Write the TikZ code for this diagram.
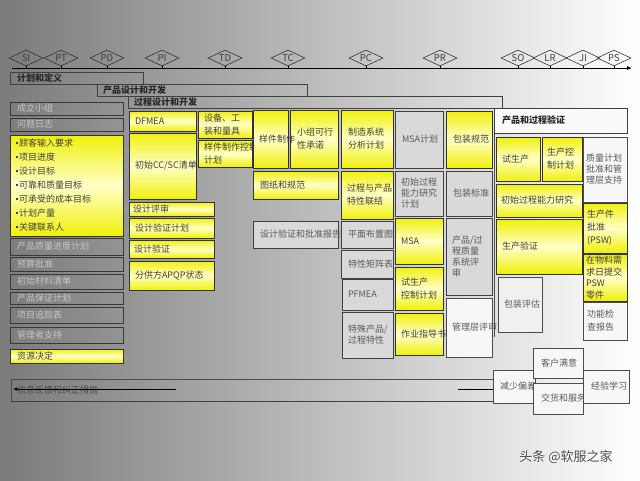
\documentclass[tikz,border=0pt]{standalone}
\usepackage{fontspec}
\setmainfont{Noto Sans CJK SC}
\usetikzlibrary{shapes.geometric,arrows.meta}
\definecolor{yel}{RGB}{240,240,10}
\definecolor{yelmid}{RGB}{255,255,200}
\newcommand\sqb{\rule[2.5pt]{2.2pt}{2.2pt}\hspace{1pt}}
% #1 pad, #2 style, #3 name, #4 x1, #5 y1, #6 x2, #7 y2, #8 text
\newcommand\bx[8][6]{%
  \pgfmathsetmacro\bxw{#6-#4}%
  \pgfmathsetmacro\bxh{#7-#5}%
  \pgfmathsetmacro\bxt{#6-#4-2*#1}%
  \node[#2, inner xsep=#1pt, minimum width=\bxw pt, minimum height=\bxh pt, text width=\bxt pt] (#3) at ({(#4+#6)/2},{(#5+#7)/2}) {#8};}
\tikzset{
  bxbase/.style={rectangle, inner ysep=0pt, align=left, font=\fontsize{9}{13}\selectfont},
  ybox/.style={bxbase, draw=black!80, line width=1pt, top color=yel, bottom color=yel, middle color=yelmid, text=black!75},
  lbox/.style={bxbase, draw=black!78, line width=1pt, text=black!22},
  gbox/.style={bxbase, draw=black!75, line width=1pt, fill=black!15, text=black!65},
  wbox/.style={bxbase, draw=black!70, line width=0.7pt, fill=black!3, text=black!65},
  hbar/.style={bxbase, draw=black!75, line width=0.8pt, text=black!85, font=\bfseries\fontsize{9}{11}\selectfont},
  tightlines/.style={font=\fontsize{9}{11}\selectfont},
  listlines/.style={font=\fontsize{9}{14}\selectfont},
  ms/.style={draw=black!80, line width=0.6pt, shape=diamond, aspect=2.3, minimum width=34pt, minimum height=16pt, inner sep=0pt, text=black!75, font=\fontsize{9.5}{10}\selectfont},
  fbbar/.style={bxbase, draw=black!70, line width=0.7pt, text=black!70},
}
\begin{document}
\begin{tikzpicture}[x=1pt,y=-1pt]
\useasboundingbox (0,0) rectangle (640,480);
\shade[left color=black!52, right color=white] (0,0) rectangle (640,480);

% timeline
\coordinate (tl0) at (12,68);
\coordinate (tl1) at (632,68);
\draw[line width=0.8pt, -{Latex[length=5pt,width=4pt]}] (tl0) -- (tl1);
\foreach \n/\x in {SI/26,PT/61,PD/107,PI/162,TD/225,TC/288,PC/366,PR/440,SO/518,LR/550,JI/583,PS/614}{
  \node[ms] (ms\n) at (\x,58) {\n};
  \draw[line width=1pt] (ms\n.south) -- (ms\n.south |- tl0);
}

% phase bars
\bx[7]{hbar}{ph1}{10}{72}{143}{84}{计划和定义}
\bx[6]{hbar}{ph2}{97}{84}{307}{96}{产品设计和开发}
\bx[6]{hbar}{ph3}{128}{96}{502}{108}{过程设计和开发}

% left column
\bx[7]{lbox}{l1}{10}{102}{123}{115}{成立小组}
\bx[7]{lbox}{l2}{10}{118}{123}{131}{问题日志}
\bx[6]{ybox,listlines}{l3}{10}{135}{123}{236}{\sqb 顾客输入要求\\\sqb 项目进度\\\sqb 设计目标\\\sqb 可靠和质量目标\\\sqb 可承受的成本目标\\\sqb 计划产量\\\sqb 关键联系人}
\bx[7]{lbox}{l4}{10}{238}{123}{255}{产品质量进度计划}
\bx[7]{lbox}{l5}{10}{257}{123}{271}{预算批准}
\bx[7]{lbox}{l6}{10}{274}{123}{289}{初始材料清单}
\bx[7]{lbox}{l7}{10}{292}{123}{304}{产品保证计划}
\bx[7]{lbox}{l8}{10}{307}{123}{323}{项目追踪表}
\bx[7]{lbox}{l9}{10}{327}{123}{343}{管理者支持}
\bx[7]{ybox}{l10}{10}{349}{123}{363}{资源决定}

% column 2
\bx[6]{ybox}{c2a}{129}{111}{196}{131}{DFMEA}
\bx[6]{ybox}{c2b}{129}{133}{196}{199}{初始CC/SC清单}
\bx[6]{ybox}{c2c}{198}{111}{252}{138}{设备、工\\装和量具}
\bx[6]{ybox}{c2d}{198}{140}{252}{167}{样件制作控制\\计划}
\bx[4]{ybox}{c2e}{129}{202}{214}{216}{设计评审}
\bx[6]{ybox}{c2f}{129}{218}{214}{238}{设计验证计划}
\bx[5]{ybox}{c2g}{129}{240}{214}{258}{设计验证}
\bx[6]{ybox}{c2h}{129}{261}{214}{290}{分供方APQP状态}

% column 3
\bx[7]{ybox}{c3b}{290}{110}{338}{168}{小组可行\\性承诺}
\bx[6]{ybox}{c3a}{253}{110}{288}{168}{样件制作}
\bx[7]{ybox}{c3c}{341}{110}{393}{168}{制造系统\\分析计划}
\bx[7]{ybox}{c3d}{253}{171}{338}{199}{图纸和规范}
\bx[6]{ybox}{c3e}{341}{171}{393}{219}{过程与产品\\特性联结}
\bx[7]{gbox}{c3f}{253}{221}{338}{248}{设计验证和批准报告}
\bx[7]{gbox}{c3g}{341}{221}{393}{248}{平面布置图}
\bx[7]{gbox}{c3h}{341}{250}{393}{278}{特性矩阵表}
\bx[6]{gbox}{c3i}{342}{279}{393}{310}{PFMEA}
\bx[6]{gbox,tightlines}{c3j}{342}{312}{393}{358}{特殊产品/\\过程特性}

% column 4
\bx[7]{gbox}{c4a}{395}{111}{443}{168}{MSA计划}
\bx[7]{ybox}{c4b}{446}{111}{492}{168}{包装规范}
\bx[6]{gbox,tightlines}{c4c}{395}{171}{443}{216}{初始过程\\能力研究\\计划}
\bx[7]{gbox}{c4d}{446}{171}{492}{216}{包装标准}
\bx[6]{ybox}{c4e}{395}{218}{443}{264}{MSA}
\bx[6]{gbox,tightlines}{c4f}{446}{218}{492}{295}{产品/过\\程质量\\系统评\\审}
\bx[6]{ybox}{c4g}{395}{267}{443}{310}{试生产\\控制计划}
\bx[6]{wbox}{c4h}{446}{298}{492}{357}{管理层评审}
\bx[6]{ybox}{c4i}{395}{313}{443}{355}{作业指导书}

% column 5
\coordinate (s5a) at (494,133);
\coordinate (s5b) at (494,337);
\draw[black!70, line width=0.8pt] (s5a) -- (s5b);
\bx[8]{hbar,fill=black!2}{c5h}{494}{108}{627}{133}{产品和过程验证}
\bx[6]{ybox}{c5a}{496}{137}{540}{181}{试生产}
\bx[5]{ybox}{c5b}{542}{137}{582}{181}{生产控\\制计划}
\bx[3]{wbox,tightlines}{c5c}{583}{137}{627}{202}{质量计划\\批准和管\\理层支持}
\bx[5]{ybox}{c5d}{496}{184}{582}{217}{初始过程能力研究}
\bx[4]{ybox}{c5e}{583}{203}{627}{253}{生产件\\批准\\(PSW)}
\bx[6]{ybox}{c5f}{496}{219}{582}{274}{生产验证}
\bx[3]{ybox,font=\fontsize{9}{11.5}\selectfont}{c5g}{583}{254}{627}{301}{在物料需\\求日提交\\PSW\\零件}
\bx[6]{wbox,fill=black!6}{c5i}{498}{277}{542}{332}{包装评估}
\bx[4]{wbox}{c5j}{583}{302}{627}{340}{功能检\\查报告}

% feedback bar
\bx[6]{fbbar}{fb}{11}{379}{493}{401}{信息反馈和纠正措施}
\draw[black!75, line width=1.3pt] (fb.south west) -- (fb.south east);
\coordinate (fbA) at (176,389);
\coordinate (fbB) at (13,389);
\draw[line width=1pt, -{Latex[length=4pt,width=3.5pt]}] (fbA) -- (fbB);
\coordinate (fbC) at (458,389);
\draw[line width=0.7pt] (fbC) -- (fbC -| fb.east);

% bottom right boxes
\bx[7]{wbox}{b1}{493}{370}{535}{403}{减少偏差}
\bx[8]{wbox}{b2}{533}{348}{583}{378}{客户满意}
\bx[8]{wbox}{b3}{533}{383}{583}{414}{交货和服务}
\bx[8]{wbox}{b4}{583}{370}{629}{403}{经验学习}

% watermark
\node[text=white, font=\fontsize{13}{13}\selectfont] (wms) at (566.8,457.8) {头条 @软服之家};
\node[text=black!70, font=\fontsize{13}{13}\selectfont] (wm) at (566,457) {头条 @软服之家};
\end{tikzpicture}
\end{document}
